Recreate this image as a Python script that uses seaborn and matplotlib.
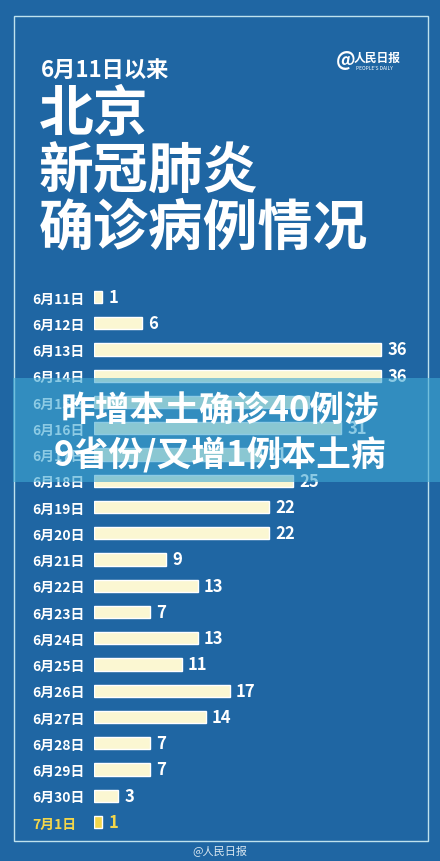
import matplotlib
matplotlib.use("Agg")
import matplotlib.pyplot as plt
from matplotlib.patches import Rectangle
import seaborn as sns
import pandas as pd

dates = ["6月11日", "6月12日", "6月13日", "6月14日", "6月15日", "6月16日", "6月17日",
         "6月18日", "6月19日", "6月20日", "6月21日", "6月22日", "6月23日", "6月24日",
         "6月25日", "6月26日", "6月27日", "6月28日", "6月29日", "6月30日", "7月1日"]
cases = [1, 6, 36, 36, 27, 31, 21, 25, 22, 22, 9, 13, 7, 13, 11, 17, 14, 7, 7, 3, 1]

title_small = "6月11日以来"
title_lines = ["北京", "新冠肺炎", "确诊病例情况"]
banner_lines = ["昨增本土确诊40例涉", "9省份/又增1例本土病"]
logo_at = "@"
logo_text = "人民日报"
logo_sub = "PEOPLE'S DAILY"
footer_text = "@人民日报"

sns.set_theme(style="white")
plt.rcParams["font.family"] = ["Noto Sans CJK SC", "DejaVu Sans"]

BG = "#1f66a3"
CREAM = "#fbf7d2"
YELLOW = "#f3d64a"
W, H = 440, 862

fig = plt.figure(figsize=(W / 100, H / 100), dpi=100, facecolor=BG)

def fx(px):
    return px / W

def fy(py):
    return 1 - py / H

# frame
fig.add_artist(Rectangle((fx(14), fy(842)), fx(428) - fx(14), fy(17) - fy(842),
                         transform=fig.transFigure, fill=False,
                         edgecolor="#bfe2ee", lw=1.0, zorder=1))

# titles
fig.text(fx(41), fy(70), title_small, color="white", fontsize=16, fontweight="bold",
         va="center", ha="left")
for txt, yy in zip(title_lines, [115, 172, 228]):
    fig.text(fx(39), fy(yy), txt, color="white", fontsize=39.5, fontweight="heavy",
             va="center", ha="left")

# logo
fig.text(fx(336), fy(61), logo_at, color="white", fontsize=14, fontweight="bold",
         va="center", ha="left")
fig.text(fx(354), fy(58), logo_text, color="white", fontsize=8.5, fontweight="bold",
         va="center", ha="left")
fig.text(fx(356), fy(68), logo_sub, color="white", fontsize=3.5, va="center", ha="left")

# bar chart axes
row0, row_last = 298, 823
step = (row_last - row0) / (len(dates) - 1)
top_px = row0 - step / 2
bot_px = row_last + step / 2
ax_left, ax_right = 94, 430
ax = fig.add_axes([fx(ax_left), fy(bot_px), fx(ax_right) - fx(ax_left), fy(top_px) - fy(bot_px)])
ax.set_facecolor("none")

df = pd.DataFrame({"date": dates, "cases": cases})
palette = {d: (YELLOW if d == "7月1日" else CREAM) for d in dates}
sns.barplot(data=df, y="date", x="cases", hue="date", palette=palette, legend=False,
            orient="h", width=0.46, ax=ax, saturation=1)

px_per_unit = (381 - 94) / 36
ax.set_xlim(0, (ax_right - ax_left) / px_per_unit)
ax.set_ylim(len(dates) - 0.5, -0.5)
for s in ax.spines.values():
    s.set_visible(False)
ax.set_xticks([])
ax.set_xlabel("")
ax.set_ylabel("")
ax.tick_params(axis="y", length=0, pad=(94 - 32) * 0.72)
ax.set_yticks(range(len(dates)))
ax.set_yticklabels(dates, fontsize=10, fontweight="bold")
for lbl in ax.get_yticklabels():
    lbl.set_ha("left")
    lbl.set_color(YELLOW if lbl.get_text() == "7月1日" else "white")

for i, v in enumerate(cases):
    ax.text(v + 0.8, i, str(v), color=(YELLOW if dates[i] == "7月1日" else "white"),
            fontsize=12, fontweight="bold", va="center", ha="left")

# overlay banner
fig.add_artist(Rectangle((fx(13), fy(483)), 1 - fx(13), fy(379) - fy(483),
                         transform=fig.transFigure, facecolor="#3fa8d3", alpha=0.6,
                         edgecolor="none", zorder=10))
for txt, yy in zip(banner_lines, [411, 455]):
    fig.text(0.5, fy(yy), txt, color="white", fontsize=25, fontweight="heavy",
             va="center", ha="center", zorder=11)

# footer
fig.text(0.5, fy(851), footer_text, color="#d8e6f0", fontsize=8, va="center", ha="center")

fig.savefig("out.png", dpi=100, facecolor=BG)
